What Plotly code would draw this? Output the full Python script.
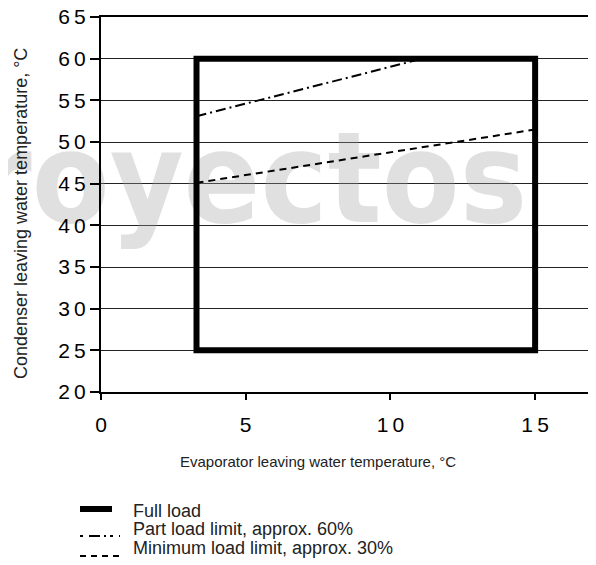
import plotly.graph_objects as go

# operating envelope (evaporator vs condenser leaving water temp, degC)
evap_min, evap_max = 3.3, 15
cond_min, cond_max = 25, 60

part_load_x = [3.3, 11.1]
part_load_y = [53.1, 60]
min_load_x = [3.3, 15]
min_load_y = [45.1, 51.5]

x_ticks = [0, 5, 10, 15]
y_ticks = [20, 25, 30, 35, 40, 45, 50, 55, 60, 65]
series_names = ["Full load", "Part load limit, approx. 60%",
                "Minimum load limit, approx. 30%"]
x_title = "Evaporator leaving water temperature, °C"
y_title = "Condenser leaving water temperature, °C"
watermark = "royectos"

# page is 596x565 but the html body has an 8px margin
OFF = 8
W, H = 596 - OFF, 565 - OFF
ML, MR, MT, MB = 93, 3, 9, 173
FONT = "Liberation Sans, Arial, sans-serif"
THIN = "\u2009"


def px(x):
    # page pixel -> paper x
    return (x - OFF - ML) / (W - ML - MR)


def py(y):
    return (H - MB - (y - OFF)) / (H - MT - MB)


# full load box, last segment repeated so the start corner gets a clean join
box_x = [evap_min, evap_max, evap_max, evap_min, evap_min, evap_max]
box_y = [cond_min, cond_min, cond_max, cond_max, cond_min, cond_min]

fig = go.Figure()
fig.add_trace(go.Scatter(x=[5.2], y=[44.2], mode="text", text=[watermark],
                         textfont=dict(family="Liberation Sans Narrow, DejaVu Sans Condensed, sans-serif",
                                       size=126, weight="bold",
                                       color="rgba(160,160,160,0.33)"),
                         cliponaxis=False, hoverinfo="skip", showlegend=False))
fig.add_trace(go.Scatter(x=box_x, y=box_y, mode="lines", name=series_names[0],
                         line=dict(color="black", width=6), showlegend=False))
fig.add_trace(go.Scatter(x=part_load_x, y=part_load_y, mode="lines", name=series_names[1],
                         line=dict(color="black", width=2, dash="10px,4px,2px,4px"),
                         showlegend=False))
fig.add_trace(go.Scatter(x=min_load_x, y=min_load_y, mode="lines", name=series_names[2],
                         line=dict(color="black", width=2, dash="7px,5px"),
                         showlegend=False))

# legend drawn by hand below the plot
samples = [dict(width=6, dash="solid"), dict(width=2, dash="3px,6px,11px,4px,2px,4px"),
           dict(width=2, dash="6px,5px")]
sample_y = [509, 536, 556]
text_y = [511, 529, 548]
for name, s, sy, ty in zip(series_names, samples, sample_y, text_y):
    fig.add_shape(type="line", xref="paper", yref="paper",
                  x0=px(80), x1=px(120 if s["dash"] != "solid" else 112), y0=py(sy), y1=py(sy),
                  line=dict(color="black", width=s["width"], dash=s["dash"]))
    fig.add_annotation(text=name, xref="paper", yref="paper", x=px(131), y=py(ty),
                       xanchor="left", yanchor="middle", showarrow=False,
                       font=dict(family=FONT, size=18, color="#222"))

# axis titles sit off-centre in the original, so place them by hand
fig.add_annotation(text=x_title, xref="paper", yref="paper", x=px(318), y=py(461),
                   xanchor="center", yanchor="middle", showarrow=False,
                   font=dict(family=FONT, size=15, color="#222"))
fig.add_annotation(text=y_title, xref="paper", yref="paper", x=px(21), y=py(214),
                   xanchor="center", yanchor="middle", showarrow=False, textangle=-90,
                   font=dict(family=FONT, size=18, color="#222"))

fig.update_xaxes(range=[0, 17], tickvals=x_ticks, ticktext=[THIN.join(str(v)) for v in x_ticks],
                 ticks="outside", ticklen=6, tickwidth=1.5, tickcolor="black",
                 ticklabelstandoff=7, ticklabeloverflow="allow",
                 showgrid=False, zeroline=False, automargin=False,
                 showline=True, linewidth=2, linecolor="black", mirror=True,
                 tickfont=dict(family=FONT, size=21, color="black"))
fig.update_yaxes(range=[20, 65], tickvals=y_ticks, ticktext=[THIN.join(str(v)) for v in y_ticks],
                 ticks="outside", ticklen=9, tickwidth=1.5, tickcolor="black",
                 ticklabeloverflow="allow",
                 showgrid=True, gridcolor="#222", gridwidth=1, zeroline=False, automargin=False,
                 showline=True, linewidth=2, linecolor="black", mirror=True,
                 tickfont=dict(family=FONT, size=21, color="black"))

fig.update_layout(width=W, height=H, margin=dict(l=ML, r=MR, t=MT, b=MB),
                  plot_bgcolor="white", paper_bgcolor="white", showlegend=False)

fig.write_html("out.html")
